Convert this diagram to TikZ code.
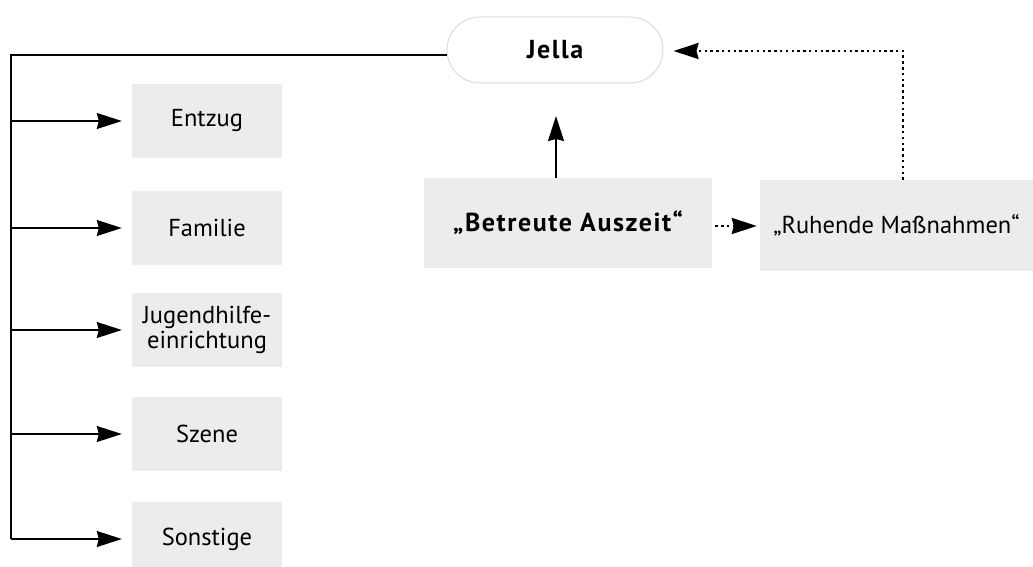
\documentclass[tikz,border=0pt]{standalone}
\usepackage{fontspec}
\setmainfont{PT Sans}
\newfontfamily\bspaced[LetterSpace=6]{PT Sans}
\usetikzlibrary{arrows.meta,calc}
\definecolor{boxgray}{HTML}{ECECEC}
\definecolor{rimgray}{HTML}{DCDCDC}
\tikzset{
  box/.style={fill=boxgray, draw=none, minimum width=150pt, minimum height=74pt, align=center, inner sep=0pt, font=\fontsize{24.5}{25}\selectfont},
  boldtxt/.style={font=\fontsize{26}{27}\bspaced\bfseries},
  tip/.style={-{Stealth[length=25pt,width=16pt,inset=2pt]}},
  conn/.style={line width=1.3pt, tip},
  plain/.style={line width=1.3pt},
  dots/.style={line width=2.5pt, dash pattern=on 2.5pt off 3.3pt},
  dotarrow/.style={dots, tip},
}
\begin{document}
\begin{tikzpicture}[x=1pt,y=-1pt]
\useasboundingbox (0,0) rectangle (1033,567);
\node[draw=rimgray, line width=1pt, fill=white, rounded corners=33pt, minimum width=216pt, minimum height=66pt, inner sep=0pt, boldtxt] (jella) at (555,50) {Jella};
\node[box] (entzug) at (207,121) {Entzug};
\node[box] (familie) at (207,228) {Familie};
\node[box] (jugend) at (207,330) {Jugendhilfe-\\einrichtung};
\node[box] (szene) at (207,434) {Szene};
\node[box] (sonst) at (207,539) {Sonstige};
\node[box, minimum width=288pt, minimum height=90pt, boldtxt] (betreut) at (568,223) {„Betreute Auszeit“};
\node[box, minimum width=273pt, minimum height=91pt] (ruhend) at (896.5,225.5) {„Ruhende Maßnahmen“};
\coordinate (corner) at (11,55);
\coordinate (bottom) at (11,539);
\draw[plain] ($(jella.west)+(0,5)$) -- (corner) -- (bottom);
\foreach \n in {entzug,familie,jugend,szene,sonst}{
  \draw[conn] (corner |- \n.west) -- ($(\n.west)+(-10,0)$);
}
\coordinate (uptip) at (556,116);
\draw[conn] (betreut.north -| uptip) -- (uptip);
\draw[dotarrow] ($(betreut.east)+(3,3)$) -- ($(ruhend.west)+(-3,0.5)$);
\coordinate (rtop) at (903,51);
\draw[dotarrow] (ruhend.north -| rtop) -- (rtop) -- ($(jella.east |- rtop)+(10,0)$);
\end{tikzpicture}
\end{document}
